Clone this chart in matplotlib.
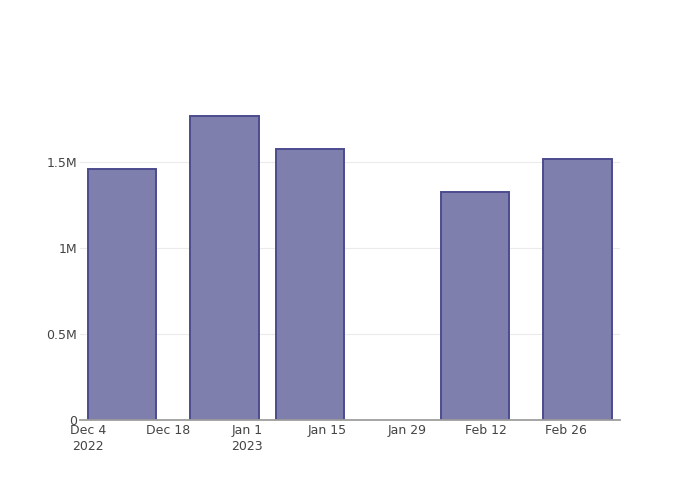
import datetime as dt

import matplotlib.dates as mdates
import matplotlib.pyplot as plt

bar_dates = ["2022-12-10", "2022-12-28", "2023-01-12", "2023-02-10", "2023-02-28"]
bar_values = [1.459e6, 1.767e6, 1.576e6, 1.328e6, 1.517e6]

tick_dates = ["2022-12-04", "2022-12-18", "2023-01-01", "2023-01-15",
              "2023-01-29", "2023-02-12", "2023-02-26"]
tick_labels = ["Dec 4\n2022", "Dec 18", "Jan 1\n2023", "Jan 15",
               "Jan 29", "Feb 12", "Feb 26"]

y_ticks = [0, 0.5e6, 1e6, 1.5e6]
y_labels = ["0", "0.5M", "1M", "1.5M"]


def to_date(s):
    return dt.datetime.strptime(s, "%Y-%m-%d")


def main():
    fig = plt.figure(figsize=(7, 5), dpi=100)
    ax = fig.add_axes([80 / 700, 80 / 500, 540 / 700, 320 / 500])

    xs = [to_date(d) for d in bar_dates]
    ax.bar(
        xs,
        bar_values,
        width=12,
        color="#7f7fae",
        edgecolor="#4b4b8f",
        linewidth=1.4,
        zorder=3,
    )

    ax.set_xlim(
        mdates.date2num(to_date("2022-12-04")) - 1.41,
        mdates.date2num(to_date("2023-02-26")) + 9.49,
    )
    ax.set_ylim(0, 1.86e6)

    ax.set_xticks([to_date(d) for d in tick_dates])
    ax.set_xticklabels(tick_labels, fontsize=9, color="#444444",
                       linespacing=1.25)
    ax.set_yticks(y_ticks)
    ax.set_yticklabels(y_labels, fontsize=9, color="#444444")

    ax.tick_params(axis="both", length=0)
    ax.tick_params(axis="x", pad=3)
    ax.tick_params(axis="y", pad=2)

    ax.grid(axis="y", color="#ebebeb", linewidth=0.8, zorder=0)
    ax.grid(axis="x", visible=False)

    for side in ["top", "right", "left"]:
        ax.spines[side].set_visible(False)
    ax.spines["bottom"].set_color("#9e9e9e")
    ax.spines["bottom"].set_linewidth(1.3)
    ax.spines["bottom"].set_zorder(4)

    fig.savefig("out.png", dpi=100)
    plt.close(fig)


if __name__ == "__main__":
    main()
